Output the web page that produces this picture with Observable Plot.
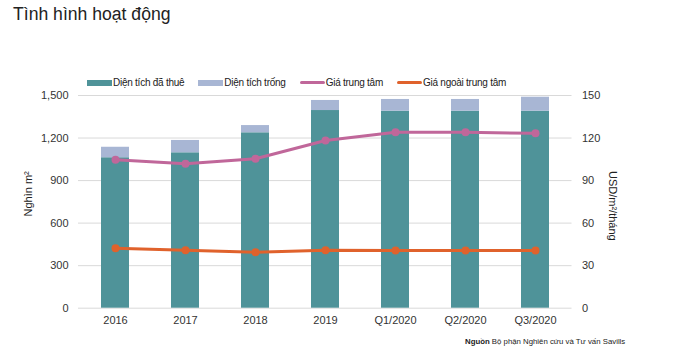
<!DOCTYPE html>
<html><head><meta charset="utf-8">
<script src="https://cdn.jsdelivr.net/npm/d3@7"></script>
<script src="https://cdn.jsdelivr.net/npm/@observablehq/plot@0.6"></script>
<style>
body{margin:0;background:#fff;font-family:"Liberation Sans",Arial,sans-serif;}
#wrap{position:relative;width:675px;height:358px;overflow:hidden;}
#title{position:absolute;left:13px;top:4px;font-size:17.6px;color:#222;}
#legend{position:absolute;left:87px;top:77px;font-size:10px;color:#222;display:flex;letter-spacing:-0.25px;}
.li{display:flex;align-items:center;margin-right:14px;}
.sw{width:25px;margin-right:1px;}
#foot{position:absolute;left:465px;top:337px;font-size:7.8px;color:#222;}
#chart{position:absolute;left:0;top:0;}
</style></head>
<body><div id="wrap">
<div id="chart"></div>
<div id="title">Tình hình hoạt động</div>
<div id="legend"></div>
<div id="foot"><b>Nguồn</b> Bộ phận Nghiên cứu và Tư vấn Savills</div>
</div>
<script>
const periods = ["2016","2017","2018","2019","Q1/2020","Q2/2020","Q3/2020"];
const leased = [1061,1096,1237,1394,1389,1389,1389];
const vacant = [74,87,51,71,83,83,99];
const cbdRent = [104.7,101.8,105.4,118.3,124.1,124.0,123.4];
const nonCbdRent = [42.3,40.9,39.5,40.9,40.7,40.7,40.7];
const seriesNames = ["Diện tích đã thuê","Diện tích trống","Giá trung tâm","Giá ngoài trung tâm"];
const colors = ["#4f9399","#a8b6d4","#c0679a","#e0622c"];
const leftTicks = [0,300,600,900,1200,1500];
const rightTicks = [0,30,60,90,120,150];

const bars = [];
periods.forEach((p,i)=>{
  bars.push({period:p, series:seriesNames[0], value:leased[i]});
  bars.push({period:p, series:seriesNames[1], value:vacant[i]});
});
const cbd = periods.map((p,i)=>({period:p, v:cbdRent[i]*10}));
const noncbd = periods.map((p,i)=>({period:p, v:nonCbdRent[i]*10}));

const chart = Plot.plot({
  width:675, height:358,
  marginTop:95, marginBottom:50.3, marginLeft:78, marginRight:103.5,
  style:{fontFamily:"Liberation Sans, Arial, sans-serif", fontSize:"11px", color:"#333"},
  x:{domain:periods, paddingInner:0.6, paddingOuter:0.3, label:null},
  y:{domain:[0,1500], label:null},
  color:{domain:seriesNames, range:colors},
  marks:[
    Plot.gridY(leftTicks,{stroke:"#d9d9d9", strokeOpacity:1}),
    Plot.barY(bars, Plot.stackY({x:"period", y:"value", fill:"series", order:seriesNames})),
    Plot.line(cbd,{x:"period", y:"v", stroke:colors[2], strokeWidth:3}),
    Plot.dot(cbd,{x:"period", y:"v", fill:colors[2], r:4}),
    Plot.line(noncbd,{x:"period", y:"v", stroke:colors[3], strokeWidth:3}),
    Plot.dot(noncbd,{x:"period", y:"v", fill:colors[3], r:4}),
    Plot.axisX({tickSize:0, tickPadding:8, label:null, fontSize:11}),
    Plot.axisY(leftTicks,{anchor:"left", tickSize:0, tickPadding:10, tickFormat:d3.format(","), label:null}),
    Plot.axisY(rightTicks.map(d=>d*10),{anchor:"right", tickSize:0, tickPadding:10, tickFormat:d=>d/10, label:null}),
    Plot.text(["Nghìn m²"],{frameAnchor:"left", textAnchor:"middle", dx:-50, rotate:-90, fontSize:11, fill:"#222", dy:-8}),
    Plot.text(["USD/m²/tháng"],{frameAnchor:"right", textAnchor:"middle", dx:41, rotate:90, fontSize:11, fill:"#222", dy:4})
  ]
});
document.getElementById("chart").appendChild(chart);

const leg = document.getElementById("legend");
seriesNames.forEach((n,i)=>{
  const d = document.createElement("div"); d.className="li";
  const h = i<2 ? 6 : 3;
  d.innerHTML = `<span class="sw" style="height:${h}px;background:${colors[i]};border-radius:${i<2?0:2}px"></span>${n}`;
  leg.appendChild(d);
});
</script>
</body></html>
